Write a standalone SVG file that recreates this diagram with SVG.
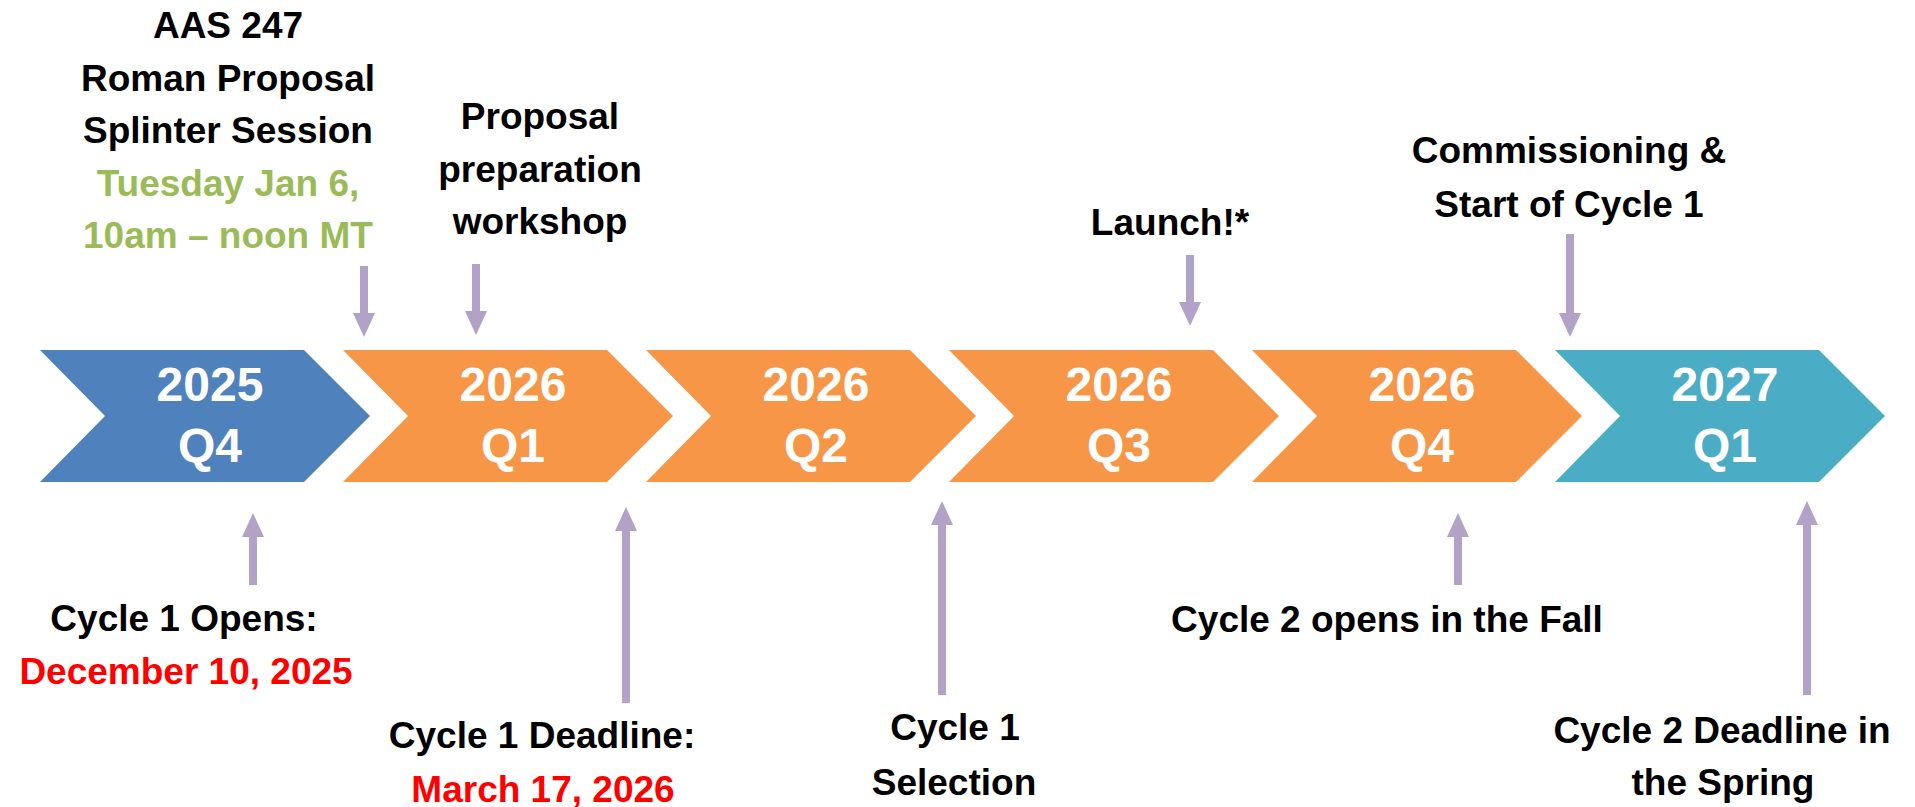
<svg xmlns="http://www.w3.org/2000/svg" width="1915" height="807" viewBox="0 0 1915 807">
<style>
.lbl{font-family:"Liberation Sans",Arial,sans-serif;font-weight:bold;font-size:37px;fill:#000;text-anchor:middle}
.grn{fill:#9BBB59}
.red{fill:#FF0000}
.ch{font-family:"Liberation Sans",Arial,sans-serif;font-weight:bold;font-size:48px;fill:#fff;text-anchor:middle}
.arr{stroke:#B3A2C7;stroke-width:8;fill:none}
</style>
<defs>
<marker id="ah" viewBox="0 -11 24 22" refX="0" refY="0" markerWidth="24" markerHeight="22" markerUnits="userSpaceOnUse" orient="auto">
<path d="M0,-11 L24,0 L0,11 Z" fill="#B3A2C7"/>
</marker>
</defs>
<g id="q2025q4"><polygon points="40,350 304,350 370,416 304,482 40,482 105,416" fill="#4F81BD"/><text class="ch" x="210" y="401">2025</text><text class="ch" x="210" y="462">Q4</text></g>
<g id="q2026q1"><polygon points="343,350 607,350 673,416 607,482 343,482 408,416" fill="#F79646"/><text class="ch" x="513" y="401">2026</text><text class="ch" x="513" y="462">Q1</text></g>
<g id="q2026q2"><polygon points="646,350 910,350 976,416 910,482 646,482 711,416" fill="#F79646"/><text class="ch" x="816" y="401">2026</text><text class="ch" x="816" y="462">Q2</text></g>
<g id="q2026q3"><polygon points="949,350 1213,350 1279,416 1213,482 949,482 1014,416" fill="#F79646"/><text class="ch" x="1119" y="401">2026</text><text class="ch" x="1119" y="462">Q3</text></g>
<g id="q2026q4"><polygon points="1252,350 1516,350 1582,416 1516,482 1252,482 1317,416" fill="#F79646"/><text class="ch" x="1422" y="401">2026</text><text class="ch" x="1422" y="462">Q4</text></g>
<g id="q2027q1"><polygon points="1555,350 1819,350 1885,416 1819,482 1555,482 1620,416" fill="#4BACC6"/><text class="ch" x="1725" y="401">2027</text><text class="ch" x="1725" y="462">Q1</text></g>
<g id="connectors">
<line class="arr" x1="364" y1="266" x2="364" y2="313" marker-end="url(#ah)"/>
<line class="arr" x1="476" y1="264" x2="476" y2="311" marker-end="url(#ah)"/>
<line class="arr" x1="1190" y1="255" x2="1190" y2="302" marker-end="url(#ah)"/>
<line class="arr" x1="1570" y1="234" x2="1570" y2="313" marker-end="url(#ah)"/>
<line class="arr" x1="253" y1="585" x2="253" y2="537" marker-end="url(#ah)"/>
<line class="arr" x1="626" y1="703" x2="626" y2="531" marker-end="url(#ah)"/>
<line class="arr" x1="942" y1="695" x2="942" y2="525" marker-end="url(#ah)"/>
<line class="arr" x1="1458" y1="585" x2="1458" y2="537" marker-end="url(#ah)"/>
<line class="arr" x1="1807" y1="695" x2="1807" y2="525" marker-end="url(#ah)"/>
</g>
<g id="aas247"><text class="lbl" x="228" y="38">AAS 247</text><text class="lbl" x="228" y="91">Roman Proposal</text><text class="lbl" x="228" y="143">Splinter Session</text><text class="lbl grn" x="228" y="196">Tuesday Jan 6,</text><text class="lbl grn" x="228" y="248">10am – noon MT</text></g>
<g id="workshop"><text class="lbl" x="540" y="129">Proposal</text><text class="lbl" x="540" y="182">preparation</text><text class="lbl" x="540" y="234">workshop</text></g>
<g id="launch"><text class="lbl" x="1170" y="235">Launch!*</text></g>
<g id="commissioning"><text class="lbl" x="1569" y="163">Commissioning &amp;</text><text class="lbl" x="1569" y="217">Start of Cycle 1</text></g>
<g id="cycle1opens"><text class="lbl" x="184" y="631">Cycle 1 Opens:</text><text class="lbl red" x="186" y="684">December 10, 2025</text></g>
<g id="cycle1deadline"><text class="lbl" x="542" y="748">Cycle 1 Deadline:</text><text class="lbl red" x="543" y="802">March 17, 2026</text></g>
<g id="cycle1selection"><text class="lbl" x="955" y="740">Cycle 1</text><text class="lbl" x="954" y="795">Selection</text></g>
<g id="cycle2opens"><text class="lbl" x="1387" y="632">Cycle 2 opens in the Fall</text></g>
<g id="cycle2deadline"><text class="lbl" x="1722" y="743">Cycle 2 Deadline in</text><text class="lbl" x="1723" y="795">the Spring</text></g>
</svg>
